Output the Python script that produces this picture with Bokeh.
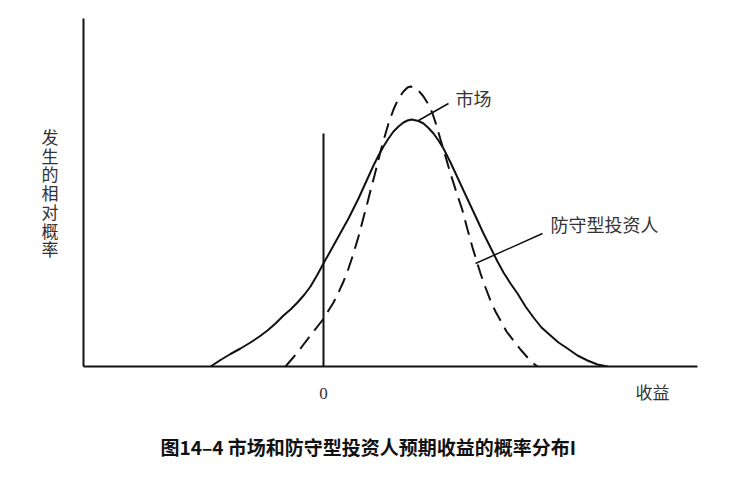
from bokeh.plotting import figure
from bokeh.models import Range1d, FixedTicker, Label, Title
from bokeh.embed import file_html
from bokeh.resources import INLINE

# Market (solid) curve
market_x = [-11.3, -10.3, -9.3, -8.3, -7.3, -6.4, -5.6, -4.8, -4.0, -3.3, -2.6, -1.9, -1.3, -0.6,
            0.1, 0.5, 1.0, 1.5, 2.0, 2.5, 3.0, 3.5, 4.0, 4.5, 5.0, 5.5, 6.0, 6.5, 7.0, 7.5, 8.0, 8.4,
            8.8, 9.5, 10.0, 10.5, 11.0, 11.5, 12.0, 12.7, 13.4, 14.0, 14.7, 15.4, 16.0, 16.7, 17.4,
            18.0, 18.7, 19.4, 20.2, 21.0, 21.8, 22.7, 23.5, 24.4, 25.4, 26.4, 27.4, 28.4]
market_y = [0.0, 0.65, 1.25, 1.8, 2.4, 3.0, 3.6, 4.3, 5.1, 5.7, 6.4, 7.2, 8.0, 9.2,
            10.5, 11.2, 12.1, 13.0, 13.9, 14.8, 15.8, 16.8, 17.9, 19.0, 20.1, 21.1, 22.0, 22.8, 23.5,
            24.0, 24.4, 24.6,
            24.7, 24.55, 24.3, 23.85, 23.3, 22.6, 21.8, 20.4, 18.9, 17.6, 16.1, 14.6, 13.3, 11.9, 10.5,
            9.4, 8.3, 7.3, 6.0, 4.9, 3.9, 3.1, 2.4, 1.8, 1.1, 0.6, 0.2, 0.0]

# Defensive investor (dashed) curve
defensive_x = [-3.8, -3.2, -2.6, -2.0, -1.3, -0.6, 0.1, 0.5, 1.0, 1.5, 2.0, 2.5, 3.0, 3.5, 4.0,
               4.4, 4.7, 5.1, 5.4, 5.7, 6.0, 6.5, 7.0, 7.5, 8.0, 8.4, 8.7,
               9.1, 9.5, 10.0, 10.5, 10.9, 11.3, 11.7, 12.2, 12.7, 13.3, 13.9, 14.4, 14.9, 15.3,
               15.7, 16.2, 16.7, 17.2, 17.7, 18.3, 19.0, 19.7, 20.4, 21.0, 21.4]
defensive_y = [0.0, 0.7, 1.4, 2.2, 3.1, 4.0, 4.9, 5.6, 6.4, 7.4, 8.5, 9.8, 11.3, 13.0, 14.9,
               16.4, 17.6, 19.1, 20.3, 21.5, 22.6, 24.3, 25.7, 26.8, 27.5, 27.9, 28.0,
               27.9, 27.6, 27.0, 26.2, 25.3, 24.1, 22.7, 21.0, 19.3, 17.4, 15.6, 13.7, 11.9, 10.6,
               9.3, 7.9, 6.6, 5.5, 4.6, 3.5, 2.6, 1.7, 0.9, 0.3, 0.0]

zero_line_x = [0, 0]
zero_line_y = [0, 23.3]

x_ticks = [0, 32.9]
x_tick_labels = {0: "0", 32.9: "收益"}

market_label = "市场"
defensive_label = "防守型投资人"
y_title = "发生的相对概率"
chart_title = "图14–4 市场和防守型投资人预期收益的概率分布I"

CJK = "Noto Sans CJK SC"

p = figure(width=736, height=477, output_backend="svg", toolbar_location=None,
           x_range=Range1d(-24, 37.4), y_range=Range1d(0, 34.8),
           min_border_left=83, min_border_right=39, min_border_top=18, min_border_bottom=111)
p.outline_line_color = None
p.xgrid.visible = False
p.ygrid.visible = False
p.background_fill_color = "white"
p.border_fill_color = "white"

for ax in (p.xaxis[0], p.yaxis[0]):
    ax.axis_line_width = 2
    ax.axis_line_color = "#111111"
    ax.major_tick_line_color = None
    ax.minor_tick_line_color = None
    ax.major_tick_out = 0
    ax.minor_tick_out = 0

xa = p.xaxis[0]
xa.ticker = FixedTicker(ticks=x_ticks)
xa.major_label_overrides = x_tick_labels
xa.major_label_text_font = "'Liberation Serif', 'Noto Sans CJK SC'"
xa.major_label_text_font_size = "17px"
xa.major_label_text_color = "#333333"
xa.major_label_standoff = 17
# tiny spacer label: pushes the caption panel a few pixels lower
xa.axis_label = " "
xa.axis_label_text_font_size = "1px"
xa.axis_label_standoff = 6

ya = p.yaxis[0]
ya.ticker = FixedTicker(ticks=[])
ya.major_label_text_font_size = "0px"
ya.axis_label = "\n".join(list(y_title))
ya.axis_label_orientation = "horizontal"
ya.axis_label_text_font = CJK
ya.axis_label_text_font_size = "17px"
ya.axis_label_text_font_style = "normal"
ya.axis_label_text_color = "#333333"
ya.axis_label_text_line_height = 0.75
ya.axis_label_standoff = 25

p.line(market_x, market_y, line_color="#111111", line_width=2)
p.line(defensive_x, defensive_y, line_color="#111111", line_width=2, line_dash="15 8")
p.line(zero_line_x, zero_line_y, line_color="#111111", line_width=2)

# leader lines
p.line([12.5, 9.5], [26.3, 24.6], line_color="#111111", line_width=1.5)
p.line([21.9, 15.2], [13.3, 10.3], line_color="#111111", line_width=1.5)

def lab(x, y, text, size, font=CJK, align="left", baseline="middle", color="#333333"):
    l = Label(x=x, y=y, text=text, text_font=font, text_font_size=size, text_align=align,
              text_baseline=baseline, text_color=color)
    p.add_layout(l)
    return l

lab(13.2, 26.9, market_label, "18px")
lab(22.7, 14.3, defensive_label, "18px")

t = Title(text=chart_title, align="left", text_font=CJK, text_font_size="19px",
          text_font_style="bold", text_color="#111111", standoff=30, offset=77)
p.add_layout(t, "below")

open("out.html", "w").write(file_html(p, INLINE))
